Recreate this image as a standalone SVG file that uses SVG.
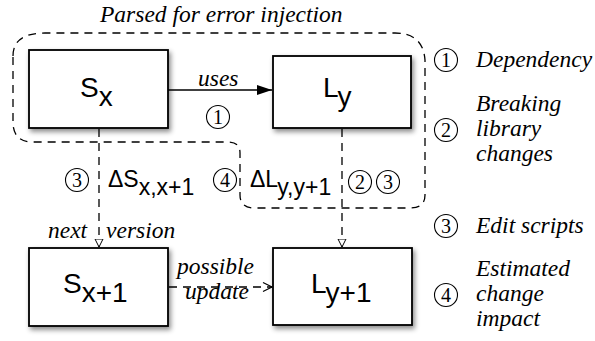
<svg xmlns="http://www.w3.org/2000/svg" width="595" height="341" viewBox="0 0 595 341">
<defs>
<filter id="sh" x="-10%" y="-10%" width="125%" height="130%">
<feDropShadow dx="2" dy="3" stdDeviation="2.5" flood-color="#000" flood-opacity="0.45"/>
</filter>
<marker id="solid" markerWidth="16" markerHeight="10" refX="15" refY="5" orient="auto" markerUnits="userSpaceOnUse">
<path d="M0,0 L15,5 L0,10 Z" fill="#000"/>
</marker>
<marker id="tri" markerWidth="10" markerHeight="10" refX="8.5" refY="4.5" orient="auto" markerUnits="userSpaceOnUse">
<path d="M0.5,0.5 L8.5,4.5 L0.5,8.5 Z" fill="#fff" stroke="#000" stroke-width="1"/>
</marker>
<marker id="chev" markerWidth="12" markerHeight="12" refX="10" refY="6" orient="auto" markerUnits="userSpaceOnUse">
<path d="M1,1.5 L10,6 L1,10.5" fill="none" stroke="#000" stroke-width="1.2"/>
</marker>
</defs>
<style>
.box{fill:#fff;stroke:#000;stroke-width:1.8;filter:url(#sh)}
.lbl{font-family:"Liberation Sans",Arial,sans-serif;font-size:28px;fill:#000}
.dl{font-family:"Liberation Sans",Arial,sans-serif;font-size:23px;fill:#000}
.it{font-family:"Liberation Serif","DejaVu Serif",serif;font-style:italic;font-size:23.5px;fill:#000}
.num{font-family:"Liberation Serif","DejaVu Serif",serif;font-size:20px;fill:#000;text-anchor:middle}
.circ{fill:none;stroke:#000;stroke-width:1.1}
.dash{fill:none;stroke:#000;stroke-width:1.3;stroke-dasharray:8 6}
</style>

<g id="region">
<path class="dash" d="M 13,56 Q 13,33 45,33 H 395 Q 423,33 425,60 V 195 Q 425,208 410,208 H 255 Q 240,208 240,195 V 153 Q 240,142 228,142 H 33 Q 13,142 13,122 Z"/>
<text class="it" x="100" y="22">Parsed for error injection</text>
</g>

<g id="connectors">
<line x1="168" y1="90" x2="272" y2="90" stroke="#000" stroke-width="1.5" marker-end="url(#solid)"/>
<text class="it" x="198" y="86">uses</text>
<line class="dash" x1="99" y1="129" x2="99" y2="247" marker-end="url(#tri)"/>
<line class="dash" x1="342" y1="129" x2="342" y2="247" marker-end="url(#tri)"/>
<line class="dash" x1="169" y1="287" x2="272" y2="287" marker-end="url(#chev)"/>
<text class="it" x="48" y="238">next <tspan dx="13">version</tspan></text>
<text class="it" x="177" y="274">possible</text>
<text class="it" x="185" y="299">update</text>
</g>

<g id="node-sx">
<rect class="box" x="29" y="50" width="139" height="78"/>
<text class="lbl" x="80" y="97">S<tspan dy="9">x</tspan></text>
</g>
<g id="node-ly">
<rect class="box" x="273" y="56" width="138" height="72"/>
<text class="lbl" x="323" y="97">L<tspan dy="9">y</tspan></text>
</g>
<g id="node-sx1">
<rect class="box" x="29" y="248" width="139" height="78"/>
<text class="lbl" x="63" y="293">S<tspan dy="9">x+1</tspan></text>
</g>
<g id="node-ly1">
<rect class="box" x="273" y="248" width="139" height="77"/>
<text class="lbl" x="311" y="293">L<tspan dy="9">y+1</tspan></text>
</g>

<g id="annotations">
<circle class="circ" cx="218" cy="117" r="11.5"/><text class="num" x="218" y="124">1</text>
<circle class="circ" cx="77" cy="180" r="11.5"/><text class="num" x="77" y="187">3</text>
<text class="dl" x="108" y="187">ΔS<tspan dy="8">x,x+1</tspan></text>
<circle class="circ" cx="225" cy="180" r="11.5"/><text class="num" x="225" y="187">4</text>
<text class="dl" x="250" y="187">ΔL<tspan dy="8">y,y+1</tspan></text>
<circle class="circ" cx="360" cy="182" r="11.5"/><text class="num" x="360" y="189">2</text>
<circle class="circ" cx="388" cy="182" r="11.5"/><text class="num" x="388" y="189">3</text>
</g>

<g id="legend">
<circle class="circ" cx="446" cy="60" r="11.5"/><text class="num" x="446" y="67">1</text>
<text class="it" x="476" y="67">Dependency</text>
<circle class="circ" cx="446" cy="130" r="11.5"/><text class="num" x="446" y="137">2</text>
<text class="it" x="476" y="111">Breaking</text>
<text class="it" x="476" y="136">library</text>
<text class="it" x="476" y="161">changes</text>
<circle class="circ" cx="446" cy="226" r="11.5"/><text class="num" x="446" y="233">3</text>
<text class="it" x="476" y="233">Edit scripts</text>
<circle class="circ" cx="446" cy="295" r="11.5"/><text class="num" x="446" y="302">4</text>
<text class="it" x="476" y="276">Estimated</text>
<text class="it" x="476" y="301">change</text>
<text class="it" x="476" y="326">impact</text>
</g>
</svg>
